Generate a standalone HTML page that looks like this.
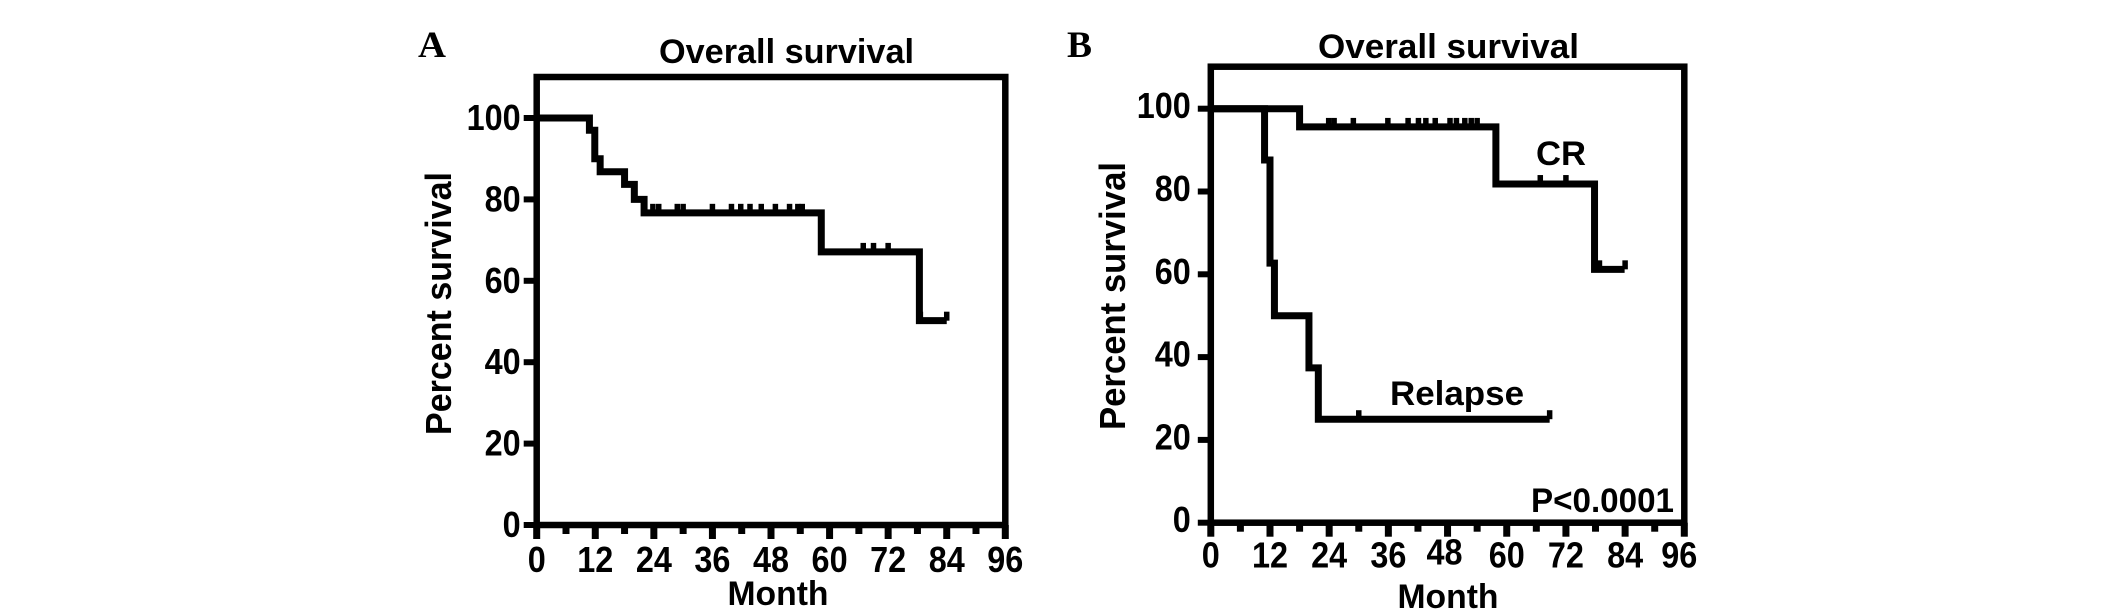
<!DOCTYPE html>
<html lang="en">
<head>
<meta charset="utf-8">
<title>Overall survival</title>
<style>
html,body{margin:0;padding:0;background:#fff;}
svg{display:block;}
text{font-family:"Liberation Sans",sans-serif;font-weight:bold;fill:#000;}
.letter{font-family:"Liberation Serif",serif;font-size:37px;}
.head{font-size:34px;}
.side{font-size:36px;}
</style>
</head>
<body>
<svg id="fig" xmlns="http://www.w3.org/2000/svg" width="2126" height="612" viewBox="0 0 2126 612">
  <rect x="0" y="0" width="2126" height="612" fill="#fff"/>
  <text class="letter" x="418" y="57" textLength="28" lengthAdjust="spacingAndGlyphs">A</text>
  <text class="letter" x="1067" y="57" textLength="25" lengthAdjust="spacingAndGlyphs">B</text>
  <text class="head" x="659" y="63" textLength="255" lengthAdjust="spacingAndGlyphs">Overall survival</text>
  <text class="head" x="1318" y="58" textLength="261" lengthAdjust="spacingAndGlyphs">Overall survival</text>
  <text class="side" transform="translate(451,435) rotate(-90)" x="0" y="0" textLength="263" lengthAdjust="spacingAndGlyphs">Percent survival</text>
  <text class="side" transform="translate(1125,430) rotate(-90)" x="0" y="0" textLength="268" lengthAdjust="spacingAndGlyphs">Percent survival</text>
  <text class="head" x="727.5" y="605" textLength="101" lengthAdjust="spacingAndGlyphs">Month</text>
  <text class="head" x="1397.5" y="608" textLength="101" lengthAdjust="spacingAndGlyphs">Month</text>
  <text class="head" x="1536" y="165" textLength="50" lengthAdjust="spacingAndGlyphs">CR</text>
  <text class="head" x="1390" y="405" textLength="134" lengthAdjust="spacingAndGlyphs">Relapse</text>
  <text class="head" x="1531" y="512" textLength="143" lengthAdjust="spacingAndGlyphs">P&lt;0.0001</text>
  <g id="panelA"></g>
  <g id="panelB"></g>
</svg>
<script>
// Tick labels
var xTickValues = [0, 12, 24, 36, 48, 60, 72, 84, 96];
var xMinorValues = [6, 18, 30, 42, 54, 66, 78, 90];
var yTickValues = [0, 20, 40, 60, 80, 100];

// Panel A: all patients
var allMonths = [0, 10.8, 11.9, 13, 18, 20, 22, 58.3, 78.4, 84];
var allSurvival = [100, 97, 90, 86.8, 83.7, 80, 76.7, 67.1, 50.2, 50.2];
var allCensorMonths = [23.8, 25, 28.8, 30, 36, 39.9, 41.8, 43.7, 46, 48.9, 51.8, 53.5, 54.4, 66.9, 69, 72, 78.6, 84];

// Panel B: CR and relapse groups
var crMonths = [0, 18, 57.8, 77.8, 83.9];
var crSurvival = [100, 95.6, 81.8, 61.2, 61.2];
var crCensorMonths = [23.9, 25, 28.9, 35.9, 40, 42.1, 43.6, 45.5, 48.5, 49.8, 51.5, 52.8, 54, 66.8, 72, 78.8, 84];
var relapseMonths = [0, 10.9, 12, 12.9, 19.9, 21.8, 68.7];
var relapseSurvival = [100, 87.6, 62.7, 50, 37.4, 25, 25];
var relapseCensorMonths = [30, 68.7];

var NS = 'http://www.w3.org/2000/svg';
function mk(parent, tag, attrs) {
  var el = document.createElementNS(NS, tag);
  for (var k in attrs) el.setAttribute(k, attrs[k]);
  parent.appendChild(el);
  return el;
}
function survivalAt(months, surv, t) {
  var v = surv[0];
  for (var i = 0; i < months.length; i++) { if (months[i] <= t) v = surv[i]; }
  return v;
}
function stepPath(months, surv, sx, sy) {
  var d = 'M' + sx(months[0]) + ' ' + sy(surv[0]);
  for (var i = 1; i < months.length; i++) {
    d += 'H' + sx(months[i]) + 'V' + sy(surv[i]);
  }
  return d;
}
function drawAxes(g, f) {
  var frame = mk(g, 'rect', {x: f.sx(0), y: f.top, width: f.sx(96) - f.sx(0), height: f.sy(0) - f.top, fill: 'none', stroke: '#000', 'stroke-width': 6.5});
  
  
  xTickValues.forEach(function (v) {
    var t = mk(g, 'line', {x1: f.sx(v), x2: f.sx(v), y1: f.sy(0), y2: f.sy(0) + 14, stroke: '#000', 'stroke-width': 7});
    
    
    var lx = f.sx(v) + (v === 96 ? f.lastNudge : 0) + (v === 48 ? f.x48Shift : 0);
    var lb = mk(g, 'text', {transform: 'translate(' + lx + ',' + (f.sy(0) + f.xBase + (v === 48 ? f.x48Nudge : 0)) + ') scale(0.9,1)', 'text-anchor': 'middle', 'font-size': 36});
    lb.textContent = String(v);
    
    
  });
  xMinorValues.forEach(function (v) {
    var t = mk(g, 'line', {x1: f.sx(v), x2: f.sx(v), y1: f.sy(0), y2: f.sy(0) + 9, stroke: '#000', 'stroke-width': 7});
    
    
  });
  yTickValues.forEach(function (v) {
    var t = mk(g, 'line', {x1: f.sx(0) - 13, x2: f.sx(0), y1: f.sy(v), y2: f.sy(v), stroke: '#000', 'stroke-width': 6});
    
    
    var lb = mk(g, 'text', {transform: 'translate(' + (f.sx(0) - f.yGap) + ',' + (f.sy(v) + f.yBase) + ') scale(0.9,1)', 'text-anchor': 'end', 'font-size': 36});
    lb.textContent = String(v);
    
    
  });
}
function drawCensors(g, f, months, surv, censors) {
  censors.forEach(function (c) {
    var y = f.sy(survivalAt(months, surv, c));
    var m = mk(g, 'line', {x1: f.sx(c), x2: f.sx(c), y1: y, y2: y - 9, stroke: '#000', 'stroke-width': 5.5});
    
    
  });
}

var frameA = {
  top: 77, xBase: 47, yBase: 12, yGap: 16, lastNudge: 0, x48Nudge: 0, x48Shift: 0,
  sx: function (m) { return 536.7 + m * (1005.3 - 536.7) / 96; },
  sy: function (s) { return 525 - s * 4.07; }
};
var frameB = {
  top: 66.7, xBase: 45, yBase: 9.5, yGap: 20, lastNudge: -5, x48Nudge: -3, x48Shift: -3,
  sx: function (m) { return 1210.8 + m * (1684.3 - 1210.8) / 96; },
  sy: function (s) { return 522.7 - s * 4.14; }
};

var gA = document.getElementById('panelA');
var gB = document.getElementById('panelB');
drawAxes(gA, frameA);
drawAxes(gB, frameB);

var allLine = mk(gA, 'path', {d: stepPath(allMonths, allSurvival, frameA.sx, frameA.sy), fill: 'none', stroke: '#000', 'stroke-width': 7});


drawCensors(gA, frameA, allMonths, allSurvival, allCensorMonths);

var relapseLine = mk(gB, 'path', {d: stepPath(relapseMonths, relapseSurvival, frameB.sx, frameB.sy), fill: 'none', stroke: '#000', 'stroke-width': 7});


drawCensors(gB, frameB, relapseMonths, relapseSurvival, relapseCensorMonths);

var crLine = mk(gB, 'path', {d: stepPath(crMonths, crSurvival, frameB.sx, frameB.sy), fill: 'none', stroke: '#000', 'stroke-width': 7});


drawCensors(gB, frameB, crMonths, crSurvival, crCensorMonths);
</script>
</body>
</html>
